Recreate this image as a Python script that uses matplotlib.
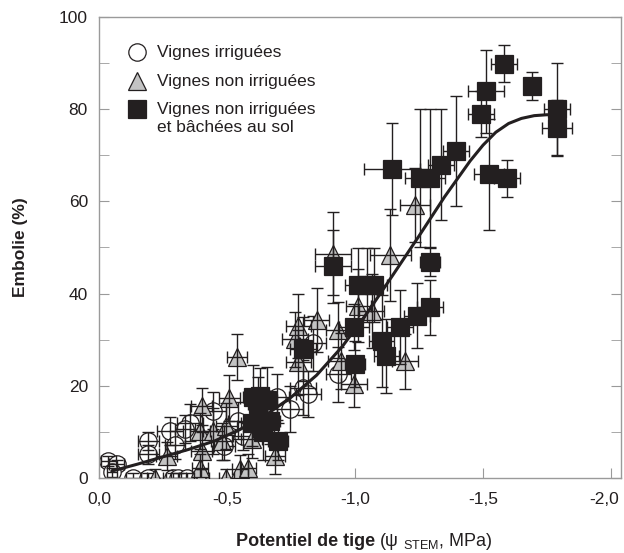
import matplotlib
matplotlib.use("Agg")
import matplotlib.pyplot as plt
import matplotlib.transforms as mtransforms
import numpy as np

plt.rcParams['font.family'] = ['Liberation Sans', 'DejaVu Sans']

#%% data (stem water potential in MPa, embolism in %)
# irrigated vines (circles)
irr_x = [-0.036, -0.069, -0.05, -0.134, -0.193, -0.29, -0.31, -0.342,
         -0.193, -0.193, -0.277, -0.297, -0.355, -0.336, -0.447, -0.49,
         -0.544, -0.564, -0.694, -0.746, -0.798, -0.818, -0.837, -0.935]
irr_y = [3.7, 3.0, 1.2, 0.0, 0.0, 0.0, 0.0, 0.0,
         8.0, 5.1, 10.2, 7.2, 12.0, 10.6, 14.6, 7.0,
         12.4, 9.1, 17.5, 14.9, 19.6, 18.2, 29.2, 22.5]
irr_xerr = [0.03, 0.03, 0.02, 0.03, 0.03, 0.03, 0.03, 0.03,
            0.04, 0.04, 0.05, 0.04, 0.05, 0.04, 0.05, 0.04,
            0.04, 0.04, 0.05, 0.05, 0.05, 0.05, 0.05, 0.05]
irr_yerr = [1, 1, 1, 1, 1, 1, 1, 1,
            2, 2, 3, 3, 4, 3, 4, 3,
            4, 3, 5, 5, 6, 5, 6, 6]

# non irrigated vines (triangles)
nir_x = [-0.219, -0.264, -0.40, -0.498, -0.395, -0.401, -0.395, -0.401,
         -0.447, -0.479, -0.498, -0.509, -0.54, -0.551, -0.583, -0.596,
         -0.688, -0.766, -0.779, -0.779, -0.85, -0.915, -0.935, -0.944,
         -0.997, -1.013, -1.065, -1.137, -1.195, -1.234]
nir_y = [0.0, 4.8, 0.0, 0.0, 2.2, 5.9, 10.2, 15.6,
         10.2, 8.0, 11.3, 17.3, 26.3, 1.9, 2.2, 8.4,
         4.8, 30.1, 33.0, 25.1, 34.3, 48.6, 32.1, 25.4,
         20.4, 37.4, 36.3, 48.3, 25.3, 59.3]
nir_xerr = [0.03, 0.04, 0.03, 0.03, 0.03, 0.04, 0.04, 0.04,
            0.04, 0.04, 0.04, 0.04, 0.04, 0.03, 0.03, 0.04,
            0.04, 0.05, 0.05, 0.05, 0.05, 0.07, 0.05, 0.05,
            0.05, 0.05, 0.05, 0.08, 0.05, 0.06]
nir_yerr = [2, 3, 2, 2, 3, 4, 4, 4,
            5, 4, 5, 5, 5, 3, 3, 4,
            4, 6, 7, 7, 7, 9, 6, 6,
            5, 8, 8, 10, 6, 8]

# non irrigated vines with soil cover (squares)
cov_x = [-0.603, -0.629, -0.655, -0.622, -0.596, -0.668, -0.642, -0.70,
         -0.798, -0.915, -0.996, -1.0, -1.01, -1.045, -1.075, -1.104,
         -1.123, -1.145, -1.176, -1.241, -1.293, -1.254, -1.293, -1.293,
         -1.336, -1.394, -1.492, -1.512, -1.523, -1.582, -1.594, -1.691,
         -1.789, -1.789]
cov_y = [17.5, 17.8, 17.0, 16.0, 12.0, 12.4, 9.9, 8.0,
         28.0, 45.9, 32.8, 24.8, 41.9, 41.9, 41.9, 29.8,
         26.5, 67.0, 32.8, 35.2, 37.0, 65.0, 65.0, 46.8,
         68.0, 70.9, 78.9, 83.9, 65.9, 89.9, 65.0, 85.0,
         80.0, 75.9]
cov_xerr = [0.04, 0.04, 0.04, 0.04, 0.04, 0.04, 0.04, 0.04,
            0.05, 0.07, 0.06, 0.04, 0.05, 0.05, 0.05, 0.05,
            0.05, 0.11, 0.05, 0.05, 0.05, 0.06, 0.06, 0.04,
            0.05, 0.05, 0.05, 0.07, 0.06, 0.05, 0.05, 0.02,
            0.05, 0.06]
cov_yerr = [7, 6, 7, 6, 5, 5, 6, 4,
            7, 8, 5, 5, 8, 8, 8, 10,
            8, 10, 8, 7, 6, 15, 15, 3,
            12, 12, 5, 9, 12, 4, 4, 3,
            10, 6]

# fitted curve
fit_x = [-0.05, -0.15, -0.25, -0.35, -0.45, -0.55, -0.65, -0.75, -0.85,
         -0.95, -1.05, -1.15, -1.25, -1.35, -1.45, -1.50, -1.55, -1.60,
         -1.65, -1.70, -1.75, -1.79]
fit_y = [1.5, 3.0, 4.6, 6.2, 8.0, 10.5, 13.6, 17.5, 22.3,
         28.5, 36.0, 44.2, 52.5, 61.0, 68.8, 72.2, 75.0, 76.9,
         78.0, 78.6, 78.8, 78.7]

# legend
labels = ['Vignes irriguées', 'Vignes non irriguées',
          'Vignes non irriguées\net bâchées au sol']

ink = '#231f20'
gris = '#c3c3c3'
axe = '#9a9a9a'

fig = plt.figure(figsize=(6.24, 5.53), dpi=100)
ax = fig.add_axes([99/624, 75/553, 522/624, 461/553])

#%% scatter + error bars
series = [
    (irr_x, irr_y, irr_xerr, irr_yerr, 'o', 'white', 2),
    (nir_x, nir_y, nir_xerr, nir_yerr, '^', gris, 3),
    (cov_x, cov_y, cov_xerr, cov_yerr, 's', ink, 4),
]
for x, y, xe, ye, mk, fc, z in series:
    ax.plot(x, y, mk, ms=12.5, mfc=fc, mec=ink, mew=0.9, ls='none', zorder=z)
    ax.errorbar(x, y, xerr=xe, yerr=ye, fmt='none', ecolor=ink,
                elinewidth=1.0, capsize=4.5, capthick=1.0, zorder=z + 0.5)

ax.plot(fit_x, fit_y, '-', color=ink, lw=2.2, zorder=6,
        solid_joinstyle='round', solid_capstyle='round')

#%% legend drawn by hand (marker + text rows)
rows_y = [0.924, 0.861, 0.800]
for (mk, fc), lab, yy in zip([('o', 'white'), ('^', gris), ('s', ink)], labels, rows_y):
    ax.plot([0.073], [yy], mk, ms=12.5, mfc=fc, mec=ink, mew=0.9,
            transform=ax.transAxes, clip_on=False, zorder=7)
    ax.text(0.111, yy + 0.015, lab, transform=ax.transAxes, fontsize=12.5,
            color=ink, ha='left', va='top', linespacing=1.2, zorder=7)

#%% axes
ax.set_xlim(0, -2.039)
ax.set_ylim(0, 100)
ax.set_xticks([0, -0.5, -1.0, -1.5, -2.0])
ax.set_xticklabels(['0,0', '-0,5', '-1,0', '-1,5', '-2,0'])
ax.set_yticks(np.arange(0, 101, 20))
ax.set_yticks(np.arange(10, 100, 20), minor=True)
for s in ax.spines.values():
    s.set_color(axe)
    s.set_linewidth(1)
ax.tick_params(which='both', direction='in', length=7, color=axe,
               labelsize=12.5, labelcolor=ink, right=True, top=False)
ax.tick_params(axis='x', pad=10)
ax.tick_params(axis='y', pad=8)
# last x label sits a little inside the figure
last = ax.get_xticklabels()[-1]
last.set_transform(last.get_transform() + mtransforms.ScaledTranslation(-7/100, 0, fig.dpi_scale_trans))

ax.set_ylabel('Embolie (%)', fontsize=12.5, fontweight='bold', color=ink, labelpad=22)
fig.text(375/624, 1 - 541/553, 'Potentiel de tige', fontsize=13, fontweight='bold',
         color=ink, ha='right', va='center')
fig.text(379/624, 1 - 541/553, r'(ψ $_{\mathregular{STEM}}$, MPa)', fontsize=13,
         color=ink, ha='left', va='center')

fig.savefig('out.png', dpi=100)
